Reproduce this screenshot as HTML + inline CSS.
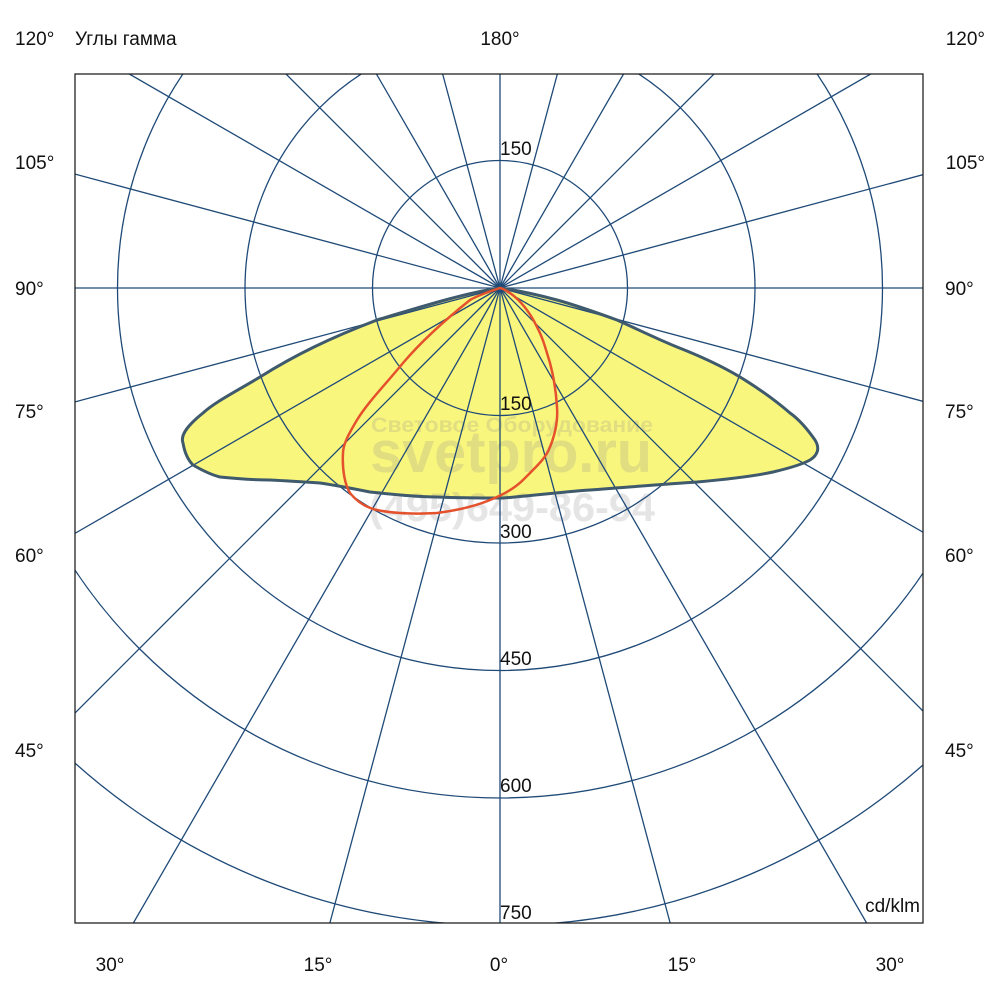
<!DOCTYPE html>
<html><head><meta charset="utf-8"><style>
html,body{margin:0;padding:0;background:#fff;width:1000px;height:1000px;overflow:hidden;}
svg{display:block;}
text{font-family:"Liberation Sans",Arial,sans-serif;}
</style></head><body>
<svg width="1000" height="1000" viewBox="0 0 1000 1000" xmlns="http://www.w3.org/2000/svg" overflow="hidden">
<defs><clipPath id="c"><rect x="75" y="74" width="848" height="849"/></clipPath></defs>
<rect width="1000" height="1000" fill="#fff"/>
<g clip-path="url(#c)">
<path d="M500,288 C470,292 430,304 377,320 C330,338 295,355 260,377 C235,392 215,402 203,413 C188,425 180,435 183,443 C185,455 190,462 193,465 C205,472 212,475 220,477 C240,479 255,480 270,480 C290,481 305,482 320,483 C340,486 355,489 370,492 C400,495 420,497 437,497 C460,498 485,498 503,498 C530,496 560,492 590,490 C630,487 665,484 697,482 C730,479 755,476 773,472 C790,468 803,464 810,460 C818,455 820,448 815,440 C808,430 800,420 790,413 C775,400 758,388 740,377 C720,365 700,356 677,347 C655,338 635,328 617,320 C595,312 575,305 557,300 C535,294 515,290 500,288 Z" fill="#f9f67e" stroke="none"/>
<g fill="#8a8a8a" fill-opacity="0.22" font-weight="bold">
<text x="512" y="432" font-size="21" text-anchor="middle" textLength="282" lengthAdjust="spacingAndGlyphs">Световое Оборудование</text>
<text x="511" y="472" font-size="58" text-anchor="middle" textLength="282" lengthAdjust="spacingAndGlyphs">svetpro.ru</text>
<text x="512" y="521" font-size="40" text-anchor="middle" textLength="286" lengthAdjust="spacingAndGlyphs">(495)649-86-94</text>
</g>
<g fill="none" stroke="#1f4a78" stroke-width="1.3">
<circle cx="500" cy="288" r="127.5"/>
<circle cx="500" cy="288" r="255"/>
<circle cx="500" cy="288" r="382.5"/>
<circle cx="500" cy="288" r="510"/>
<circle cx="500" cy="288" r="637.5"/>
<line x1="500" y1="74" x2="500" y2="923"/>
<line x1="75" y1="288" x2="923" y2="288"/>
</g>
<g stroke="#1f4a78" stroke-width="1.3" id="rays2"></g>
<path d="M500,288 C470,292 430,304 377,320 C330,338 295,355 260,377 C235,392 215,402 203,413 C188,425 180,435 183,443 C185,455 190,462 193,465 C205,472 212,475 220,477 C240,479 255,480 270,480 C290,481 305,482 320,483 C340,486 355,489 370,492 C400,495 420,497 437,497 C460,498 485,498 503,498 C530,496 560,492 590,490 C630,487 665,484 697,482 C730,479 755,476 773,472 C790,468 803,464 810,460 C818,455 820,448 815,440 C808,430 800,420 790,413 C775,400 758,388 740,377 C720,365 700,356 677,347 C655,338 635,328 617,320 C595,312 575,305 557,300 C535,294 515,290 500,288 Z" fill="none" stroke="#3f5a6c" stroke-width="3"/>
<path d="M500,288 C485,293 475,297 470,300 C445,320 420,343 403,363 C385,385 368,402 357,420 C348,435 343,445 343,453 C342,470 345,485 350,493 C358,503 368,508 377,510 C395,514 420,514 437,513 C460,510 478,505 490,500 C505,494 515,488 523,480 C537,466 546,458 550,447 C556,432 558,420 557,407 C556,390 554,378 550,363 C546,350 543,338 537,327 C530,312 520,300 510,293 C505,290 502,288 500,288 Z" fill="none" stroke="#e4512c" stroke-width="2.5"/>
</g>
<rect x="75" y="74" width="848" height="849" fill="none" stroke="#222" stroke-width="1.3"/>
<g font-size="19" fill="#111">
<text x="15" y="45">120°</text>
<text x="75" y="45">Углы гамма</text>
<text x="500" y="45" text-anchor="middle">180°</text>
<text x="985" y="45" text-anchor="end">120°</text>
<text x="15" y="169">105°</text><text x="985" y="169" text-anchor="end">105°</text>
<text x="15" y="295">90°</text><text x="945" y="295">90°</text>
<text x="15" y="418">75°</text><text x="945" y="418">75°</text>
<text x="15" y="562">60°</text><text x="945" y="562">60°</text>
<text x="15" y="757">45°</text><text x="945" y="757">45°</text>
<text x="110" y="971" text-anchor="middle">30°</text>
<text x="318" y="971" text-anchor="middle">15°</text>
<text x="499" y="971" text-anchor="middle">0°</text>
<text x="682" y="971" text-anchor="middle">15°</text>
<text x="890" y="971" text-anchor="middle">30°</text>
<text x="500" y="155">150</text>
<text x="500" y="410">150</text>
<text x="500" y="538">300</text>
<text x="500" y="665">450</text>
<text x="500" y="792">600</text>
<text x="500" y="919">750</text>
<text x="920" y="912" text-anchor="end">cd/klm</text>
</g>
<script>
(function(){
var g=document.getElementById('rays2');var ns='http://www.w3.org/2000/svg';
for(var a=15;a<360;a+=15){if(a%90==0)continue;var r=a*Math.PI/180;
var dx=Math.sin(r),dy=Math.cos(r);
var tx=dx>0?(923-500)/dx:(dx<0?(75-500)/dx:1e9);
var ty=dy>0?(923-288)/dy:(dy<0?(74-288)/dy:1e9);
var t=Math.min(tx,ty);
var l=document.createElementNS(ns,'line');l.setAttribute('x1',500);l.setAttribute('y1',288);
l.setAttribute('x2',500+t*dx);l.setAttribute('y2',288+t*dy);g.appendChild(l);}
})();
</script>
</svg>
</body></html>
